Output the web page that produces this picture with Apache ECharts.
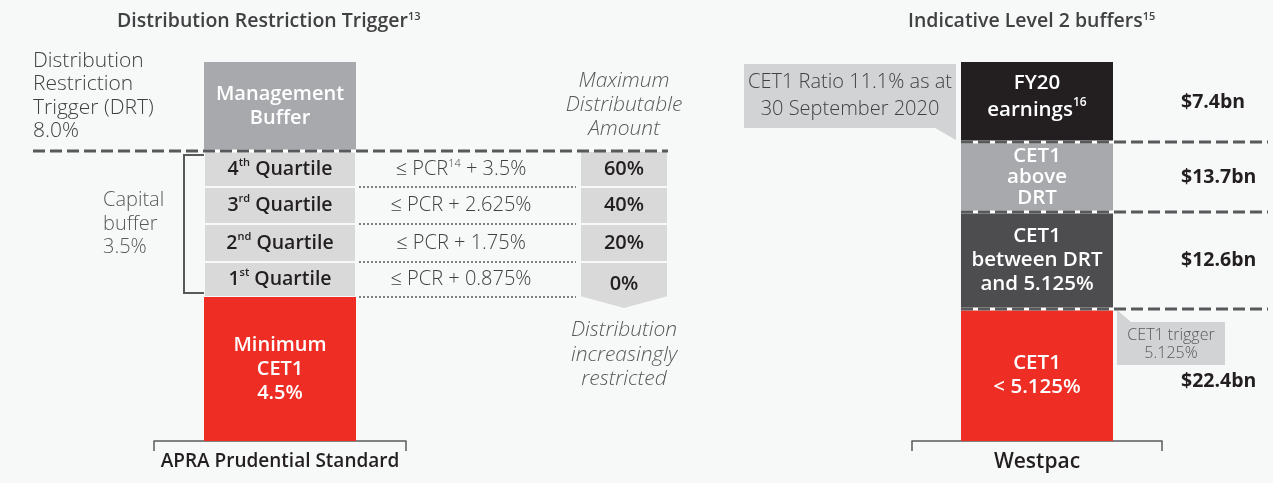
<!DOCTYPE html>
<html>
<head>
<meta charset="utf-8">
<script src="https://cdn.jsdelivr.net/npm/echarts@6/dist/echarts.min.js"></script>
<style>
  html, body { margin: 0; padding: 0; background: #f7f8f8; }
  #main { width: 1273px; height: 483px; }
</style>
</head>
<body>
<div id="main"></div>
<script>
// APRA stack, bottom to top (drawn heights read off the picture, not to scale)
const leftNames = ['Minimum\nCET1\n4.5%', '1^st Quartile', '2^nd Quartile', '3^rd Quartile', '4^th Quartile', 'Management\nBuffer'];
const leftHeights = [144, 35, 38, 37, 36, 89];
const quartileRules = ['≤ PCR + 0.875%', '≤ PCR + 1.75%', '≤ PCR + 2.625%', '≤ PCR^14 + 3.5%'];
const payoutLabels = ['0%', '20%', '40%', '60%'];

// Westpac stack, bottom to top
const rightNames = ['CET1\n< 5.125%', 'CET1\nbetween DRT\nand 5.125%', 'CET1\nabove\nDRT', 'FY20\nearnings^16'];
const rightHeights = [132, 97, 70, 80];
const rightAmounts = ['$22.4bn', '$12.6bn', '$13.7bn', '$7.4bn'];

const BG = '#f7f8f8';
const FONT = 'Open Sans';
const TXT = '#414042';
const LINE = '#58595b';
const leftColors = ['#ee2e24', '#d9d9d9', '#d9d9d9', '#d9d9d9', '#d9d9d9', '#a7a9ac'];
const rightColors = ['#ee2e24', '#4d4d4f', '#a7a9ac', '#231f20'];
const TOTAL = 379;

// "^xx" -> superscript rich token
const sup = s => s.replace(/\^(\w+)/g, '{s|$1}');
const supStyle = (color, size, weight) => ({ s: { color: color, fontFamily: FONT, fontWeight: weight || 600, fontSize: size, verticalAlign: 'top', lineHeight: 17 } });

const chart = echarts.init(document.getElementById('main'));

const series = [];
leftNames.forEach((name, i) => {
  const quart = i >= 1 && i <= 4;
  series.push({
    type: 'bar', name: name.replace(/\n/g, ' '), stack: 'apra', xAxisIndex: 0, yAxisIndex: 0,
    barWidth: 152, data: [leftHeights[i]],
    itemStyle: { color: leftColors[i], borderColor: BG, borderWidth: quart ? 1 : 0 },
    label: {
      show: true, position: 'inside', formatter: sup(name),
      color: quart ? '#231f20' : '#fff', fontFamily: FONT, fontWeight: 600,
      fontSize: quart ? 19.5 : 20, lineHeight: 24, rich: supStyle(quart ? '#231f20' : '#fff', 11)
    }
  });
});

// maximum distributable amount column + PCR rules, stacked on the same rows
series.push({ type: 'bar', stack: 'mda', xAxisIndex: 2, yAxisIndex: 2, barWidth: 88, barGap: '-100%',
  data: [leftHeights[0]], itemStyle: { color: 'transparent' } });
series.push({ type: 'bar', stack: 'rule', xAxisIndex: 2, yAxisIndex: 2, barWidth: 88, barGap: '-100%',
  data: [leftHeights[0]], itemStyle: { color: 'transparent' } });
payoutLabels.forEach((p, i) => {
  series.push({
    type: 'bar', name: 'MDA ' + p, stack: 'mda', xAxisIndex: 2, yAxisIndex: 2, barWidth: 88, barGap: '-100%',
    data: [leftHeights[i + 1]],
    itemStyle: { color: '#d9d9d9', borderColor: BG, borderWidth: 1 },
    label: { show: true, position: 'inside', formatter: p, offset: [0, i === 0 ? 5 : 0],
      color: '#231f20', fontFamily: FONT, fontWeight: 600, fontSize: 20 }
  });
  series.push({
    type: 'bar', name: 'rule ' + i, stack: 'rule', xAxisIndex: 2, yAxisIndex: 2, barWidth: 88, barGap: '-100%',
    data: [leftHeights[i + 1]], itemStyle: { color: 'transparent' },
    label: { show: true, position: 'inside', formatter: sup(quartileRules[i]), offset: [-163, 0],
      color: TXT, fontFamily: FONT, fontWeight: 300, fontSize: 20, lineHeight: 22, rich: supStyle(TXT, 11, 300) }
  });
});

rightNames.forEach((name, i) => {
  series.push({
    type: 'bar', name: name.replace(/\n/g, ' '), stack: 'wbc', xAxisIndex: 1, yAxisIndex: 1,
    barWidth: 152, barGap: '-100%', data: [rightHeights[i]],
    itemStyle: { color: rightColors[i] },
    label: {
      show: true, position: 'inside', formatter: sup(name), offset: [0, i === 3 ? -5 : 0],
      color: '#fff', fontFamily: FONT, fontWeight: 600, fontSize: 20.5,
      lineHeight: i === 2 ? 21 : (i === 3 ? 27 : 24), rich: supStyle('#fff', 12)
    }
  });
  series.push({
    type: 'bar', name: 'amount ' + i, stack: 'amt', xAxisIndex: 1, yAxisIndex: 1,
    barWidth: 152, barGap: '-100%', data: [rightHeights[i]],
    itemStyle: { color: 'transparent' },
    label: { show: true, position: 'right', distance: 68, formatter: rightAmounts[i],
      offset: [0, i === 0 ? 6 : 0], color: '#231f20', fontFamily: FONT, fontWeight: 700, fontSize: 19.5 }
  });
});

const catAxis = (idx, name, size) => ({
  type: 'category', gridIndex: idx, data: [name],
  axisLine: { lineStyle: { color: LINE, width: 1.5 } },
  axisTick: { show: true, length: 10, lineStyle: { color: LINE, width: 1.5 } },
  axisLabel: { margin: 11, color: '#231f20', fontFamily: FONT, fontWeight: 600, fontSize: size }
});

chart.setOption({
  animation: false,
  backgroundColor: BG,
  title: [
    { text: 'Distribution Restriction Trigger{s|13}', left: 117, top: 11, padding: 0,
      textStyle: { color: TXT, fontFamily: FONT, fontWeight: 600, fontSize: 19.5, rich: supStyle(TXT, 11) } },
    { text: 'Indicative Level 2 buffers{s|15}', left: 908, top: 11, padding: 0,
      textStyle: { color: TXT, fontFamily: FONT, fontWeight: 600, fontSize: 19.5, rich: supStyle(TXT, 11) } }
  ],
  grid: [
    { left: 154, width: 252, top: 62, height: TOTAL },
    { left: 912, width: 250, top: 62, height: TOTAL },
    { left: 580, width: 88, top: 62, height: TOTAL }
  ],
  xAxis: [catAxis(0, 'APRA Prudential Standard', 19), catAxis(1, 'Westpac', 21),
    { type: 'category', gridIndex: 2, data: ['MDA'], show: false }],
  yAxis: [0, 1, 2].map(i => ({ type: 'value', gridIndex: i, min: 0, max: TOTAL, show: false })),
  series: series
});

// annotations placed from the axes' own scales
const yL = v => chart.convertToPixel({ yAxisIndex: 0 }, v);
const yR = v => chart.convertToPixel({ yAxisIndex: 1 }, v);
const cum = arr => arr.reduce((a, v) => { a.push((a.length ? a[a.length - 1] : 0) + v); return a; }, []);
const lc = cum(leftHeights), rc = cum(rightHeights);

const g = [];
const line = (x1, y, x2, style) => ({ type: 'line', z: 50, shape: { x1: x1, y1: y, x2: x2, y2: y }, style: style });
const dash = { stroke: LINE, lineWidth: 3, lineDash: [12, 5] };
const text = (x, y, str, opt) => ({ type: 'text', z: 60, x: x, y: y,
  style: Object.assign({ text: str, fill: TXT, fontFamily: FONT, fontWeight: 300, fontSize: 21, lineHeight: 23.5,
    align: 'left', textAlign: 'left', verticalAlign: 'top', textVerticalAlign: 'top' }, opt) });

// DRT line
const drtY = yL(lc[4]);
g.push(line(204, drtY, 356, { stroke: '#fff', lineWidth: 3 }));
g.push(line(33, drtY, 668, dash));
// dotted rule lines under each quartile row
for (let i = 0; i < 4; i++) {
  g.push(line(359, yL(lc[i]), 576, { stroke: LINE, lineWidth: 1.5, lineDash: [2, 2] }));
}
// capital buffer bracket
g.push({ type: 'polyline', z: 50, shape: { points: [[204, drtY + 4], [184, drtY + 4], [184, yL(lc[0]) - 4], [204, yL(lc[0]) - 4]] },
  style: { stroke: LINE, lineWidth: 2, fill: null } });
// chevron under 0%
const y0 = yL(lc[0]);
g.push({ type: 'polygon', z: 50, shape: { points: [[580, y0 - 1], [668, y0 - 1], [624, y0 + 11]] }, style: { fill: '#d9d9d9' } });
// Westpac dashed boundaries
for (let i = 0; i < 3; i++) {
  const y = yR(rc[i]);
  g.push(line(961, y, 1113, { stroke: '#fff', lineWidth: 3 }));
  g.push(line(961, y, 1268, dash));
}
// callouts
g.push({ type: 'polygon', z: 40, shape: { points: [[744, 64], [956, 64], [956, 140], [935, 128], [744, 128]] }, style: { fill: '#d1d3d4' } });
g.push(text(850, 69, 'CET1 Ratio 11.1% as at\n30 September 2020', { align: 'center', textAlign: 'center', fontSize: 20, lineHeight: 27 }));
g.push({ type: 'polygon', z: 40, shape: { points: [[1117, 310], [1131, 322], [1225, 322], [1225, 365], [1117, 365]] }, style: { fill: '#d1d3d4' } });
g.push(text(1171, 326, 'CET1 trigger\n5.125%', { align: 'center', textAlign: 'center', fontSize: 16, lineHeight: 18, fill: LINE }));
// side texts
g.push(text(33, 49, 'Distribution\nRestriction\nTrigger (DRT)\n8.0%'));
g.push(text(103, 189, 'Capital\nbuffer\n3.5%', { fontSize: 20, fill: '#58595b' }));
g.push(text(624, 69, 'Maximum\nDistributable\nAmount', { align: 'center', textAlign: 'center', fontStyle: 'italic', fontSize: 21, lineHeight: 24, fill: LINE }));
g.push(text(624, 318, 'Distribution\nincreasingly\nrestricted', { align: 'center', textAlign: 'center', fontStyle: 'italic', fontSize: 21, lineHeight: 24.5, fill: LINE }));

chart.setOption({ graphic: g });
</script>
</body>
</html>
